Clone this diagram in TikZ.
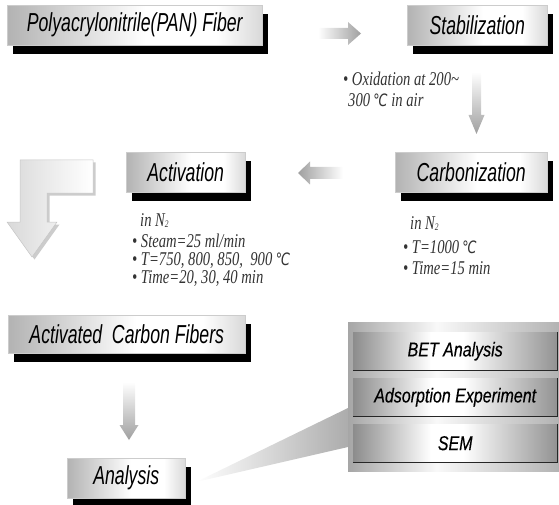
\documentclass[tikz,border=0pt]{standalone}
\usepackage{fontspec}
\setmainfont{Liberation Serif}
\newfontfamily\ttlfont[FakeStretch=0.68]{Liberation Sans}
\newfontfamily\notefont[FakeStretch=0.75]{Liberation Serif}
\newfontfamily\bandfont[FakeStretch=0.8,FakeBold=0.4]{Liberation Sans}
\newfontfamily\degfont[FakeStretch=0.75]{DejaVu Sans}
\pgfdeclarehorizontalshading{boxshade}{100bp}{color(0bp)=(gray!60); color(25bp)=(gray!60); color(52bp)=(white); color(66bp)=(white); color(75bp)=(gray!30); color(100bp)=(gray!30)}
\pgfdeclarehorizontalshading{bandshade}{100bp}{color(0bp)=(gray!90); color(25bp)=(gray!90); color(44bp)=(white); color(52bp)=(white); color(75bp)=(gray!85); color(100bp)=(gray!85)}
\pgfdeclarehorizontalshading{frameshade}{100bp}{color(0bp)=(gray!70); color(25bp)=(gray!70); color(46bp)=(white!95!gray); color(75bp)=(gray!60); color(100bp)=(gray!60)}
\newcommand{\degC}{{\degfont\itshape\fontsize{17}{17}\selectfont ℃}}
\newcommand{\subtwo}{\raisebox{-0.1em}{\fontsize{10}{10}\selectfont 2}}
\tikzset{
  ttl/.style={draw=gray!40, line width=0.5pt, shade, shading=boxshade, anchor=north west, inner sep=0pt,
    font=\ttlfont\itshape\fontsize{26}{26}\selectfont,
    preaction={fill=black, transform canvas={shift={(6pt,-8.5pt)}}}},
  note/.style={anchor=base west, inner sep=0pt, text=black!80, font=\notefont\itshape\fontsize{19.5}{19.5}\selectfont},
  band/.style={shade, shading=bandshade, anchor=north west, inner sep=0pt, minimum width=204pt, minimum height=38pt,
    font=\bandfont\itshape\fontsize{20}{20}\selectfont},
  bandline/.style={line width=1.6pt, black!85}
}
\begin{document}
\begin{tikzpicture}[x=1pt,y=-1pt]
\useasboundingbox (0,0) rectangle (559,505);

% title boxes
\node[ttl, minimum width=255pt, minimum height=40pt] (pan) at (7,5) {Polyacrylonitrile(PAN) Fiber};
\node[ttl, minimum width=140pt, minimum height=40pt] (stab) at (407,5) {Stabilization};
\node[ttl, minimum width=152pt, minimum height=40pt] (carb) at (395,152) {Carbonization};
\node[ttl, minimum width=119pt, minimum height=40pt] (act) at (126,152) {Activation};
\node[ttl, minimum width=237pt, minimum height=38pt] (acf) at (8,315) {Activated\ \ Carbon Fibers};
\node[ttl, minimum width=118pt, minimum height=40pt] (ana) at (67,458) {Analysis};

% gradient arrows
\shade[left color=white, right color=gray!75] (318,28) -- (348,28) -- (348,22) -- (361,33.5) -- (348,45) -- (348,39) -- (318,39) -- cycle;
\shade[top color=white, bottom color=gray!75] (472,72) -- (481,72) -- (481,115) -- (484.5,115) -- (476.5,134) -- (468.5,115) -- (472,115) -- cycle;
\shade[left color=gray!75, right color=white] (343,167) -- (310,167) -- (310,161.5) -- (298,173) -- (310,184.5) -- (310,179) -- (343,179) -- cycle;
\shade[top color=white, bottom color=gray!75] (123,382) -- (135,382) -- (135,425) -- (138.5,425) -- (129,440) -- (119.5,425) -- (123,425) -- cycle;

% L-shaped arrow
\fill[gray!40] (95.5,162.5) -- (22.5,162.5) -- (22.5,224.5) -- (9.5,224.5) -- (34.5,259.5) -- (59.5,224.5) -- (49.5,224.5) -- (49.5,195.5) -- (95.5,195.5) -- cycle;
\shade[left color=gray!30, right color=white, draw=gray!45, line width=0.5pt]
  (93,160) -- (20,160) -- (20,222) -- (7,222) -- (32,257) -- (57,222) -- (47,222) -- (47,193) -- (93,193) -- cycle;

% notes
\node[note] (n1) at (343,86) {• Oxidation at 200\textasciitilde};
\node[note] (n2) at (348,107) {300\,\degC\ in air};

\node[note] (c1) at (410,229) {in N\subtwo};
\node[note] (c2) at (403,253) {• T=1000\,\degC};
\node[note] (c3) at (403,274) {• Time=15 min};

\node[note] (d1) at (140,226) {in N\subtwo};
\node[note] (d2) at (132,247) {• Steam=25 ml/min};
\node[note] (d3) at (132,265) {• T=750, 800, 850,\ \ 900 \degC};
\node[note] (d4) at (132,283) {• Time=20, 30, 40 min};

% callout wedge
\shade[left color=white, right color=gray!65] (196,482) -- (348,408) -- (348,447) -- cycle;

% analysis panel
\shade[shading=frameshade] (348,322) rectangle (559,471);
\node[band] (bet) at (353,332) {BET Analysis};
\node[band] (ads) at (353,378) {Adsorption Experiment};
\node[band] (sem) at (353,424) {SEM};
\foreach \b in {bet,ads,sem}{
  \draw[bandline] (\b.south west) -- (\b.south east) -- (\b.north east);
}
\end{tikzpicture}
\end{document}
